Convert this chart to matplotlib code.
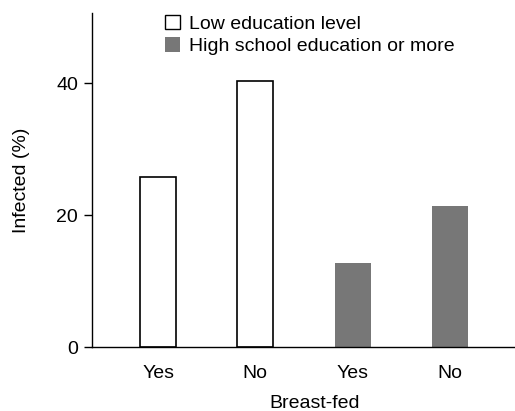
import matplotlib.pyplot as plt
from matplotlib.patches import Patch

# values
groups = ['Low education level', 'High school education or more']
tick_labels = ['Yes', 'No', 'Yes', 'No']
low_edu = [25.8, 40.3]
high_edu = [12.7, 21.4]

plt.rcParams['font.family'] = ['Liberation Sans', 'DejaVu Sans']
plt.rcParams['font.size'] = 14

fig = plt.figure(figsize=(5.15, 4.11), dpi=100)
ax = fig.add_axes([0.1786, 0.155, 0.8214, 0.813])

x = [0, 1, 2, 3]
w = 0.37
ax.bar(x[:2], low_edu, width=w, color='white', edgecolor='black', linewidth=1.2)
ax.bar(x[2:], high_edu, width=w, color='#777777', edgecolor='none')

ax.set_xlim(-0.68, 3.67)
ax.set_ylim(0, 50.6)
ax.set_yticks([0, 20, 40])
ax.set_xticks(x)
ax.set_xticklabels(tick_labels)
ax.tick_params(axis='x', length=0, pad=13)
ax.tick_params(axis='y', length=6, width=1, pad=4, direction='out')

for s in ['top', 'right']:
    ax.spines[s].set_visible(False)
ax.spines['left'].set_linewidth(1)
ax.spines['bottom'].set_linewidth(1)

ax.set_xlabel('Breast-fed')
ax.xaxis.set_label_coords(0.527, -0.143)
ax.set_ylabel('Infected (%)')
ax.yaxis.set_label_coords(-0.147, 0.5)

handles = [Patch(facecolor='white', edgecolor='black', linewidth=1),
           Patch(facecolor='#777777', edgecolor='none')]
ax.legend(handles, groups, loc='upper left', bbox_to_anchor=(0.302, 0.988),
          bbox_transform=fig.transFigure, frameon=False,
          handlelength=0.75, handleheight=0.75, handletextpad=0.45,
          labelspacing=0.25, borderpad=0)

fig.savefig('out.png', dpi=100)
